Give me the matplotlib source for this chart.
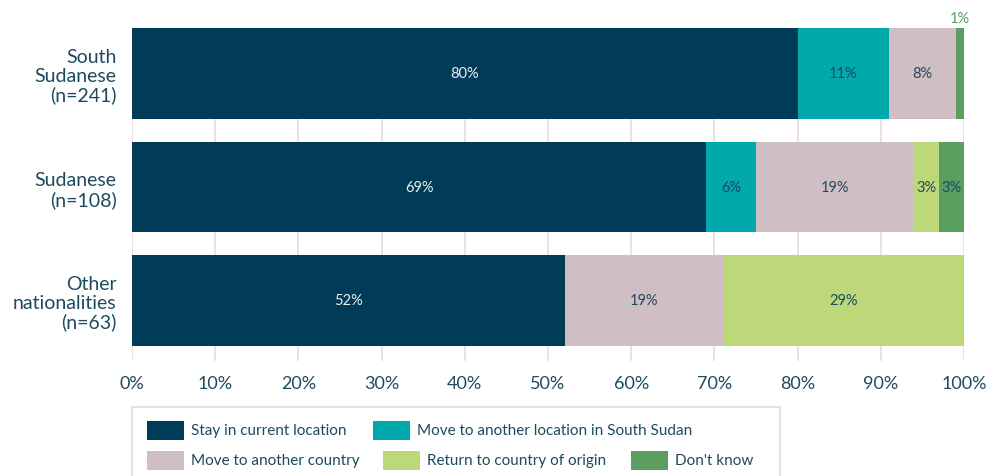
import matplotlib.pyplot as plt
from matplotlib.patches import Rectangle

groups = ['South\nSudanese\n(n=241)', 'Sudanese\n(n=108)', 'Other\nnationalities\n(n=63)']
series = ['Stay in current location', 'Move to another location in South Sudan',
          'Move to another country', 'Return to country of origin', "Don't know"]
values = [
    [80, 69, 52],
    [11, 6, 0],
    [8, 19, 19],
    [0, 3, 29],
    [1, 3, 0],
]
colors = ['#003c57', '#00a9ac', '#cfbfc4', '#bcd878', '#5a9e60']
label_colors = ['#e8eef2', '#1e4a5f', '#1e4a5f', '#1e4a5f', '#1e4a5f']
text_col = '#1e4a5f'
grid_col = '#e8dde0'

plt.rcParams['font.family'] = ['Lato', 'DejaVu Sans']

fig = plt.figure(figsize=(9.87, 4.77), dpi=100)
ax = fig.add_axes([132/987, 1-362/477, (964-132)/987, (362-29)/477])

left = [0, 0, 0]
for s, name in enumerate(series):
    vals = values[s]
    ax.barh(range(len(groups)), vals, left=left, height=0.8, color=colors[s], zorder=2)
    for i, v in enumerate(vals):
        if v == 0:
            continue
        cx = left[i] + v / 2
        if v >= 2:
            ax.text(cx, i, f'{v}%', ha='center', va='center', fontsize=10.5,
                    color=label_colors[s], zorder=3)
        else:
            # small segment: label sits above the bar
            ax.text(cx, i - 0.4 - 0.03, f'{v}%', ha='center', va='bottom', fontsize=10.5,
                    color=colors[s], zorder=3, clip_on=False)
    left = [l + v for l, v in zip(left, vals)]

ax.set_xlim(0, 100)
ax.set_ylim(2.533, -0.4)
ax.set_xticks(range(0, 101, 10))
ax.set_xticklabels([f'{t}%' for t in range(0, 101, 10)], fontsize=13, color=text_col)
ax.set_yticks(range(len(groups)))
ax.set_yticklabels(groups, fontsize=14, color=text_col, ha='right', linespacing=1.12)
ax.tick_params(axis='x', length=0, pad=10)
ax.tick_params(axis='y', length=0, pad=11)
ax.grid(axis='x', color=grid_col, linewidth=1.2, zorder=0)
for sp in ax.spines.values():
    sp.set_visible(False)

# legend box drawn by hand
W, H = 987, 477
fig.patches.append(Rectangle((132/W, 1-490/H), (780-132)/W, (490-408)/H,
                             transform=fig.transFigure, facecolor='none',
                             edgecolor='#e6dde0', linewidth=1.5))
entries = [(0, 147, 431.5), (1, 373, 431.5), (2, 147, 461.5), (3, 383, 461.5), (4, 631, 461.5)]
for s, px, py in entries:
    fig.patches.append(Rectangle((px/W, 1-(py+9.5)/H), 37/W, 19/H,
                                 transform=fig.transFigure, facecolor=colors[s],
                                 edgecolor='none'))
    fig.text((px+44)/W, 1-py/H, series[s], fontsize=11, color=text_col,
             ha='left', va='center')

fig.savefig('out.png', dpi=100)
